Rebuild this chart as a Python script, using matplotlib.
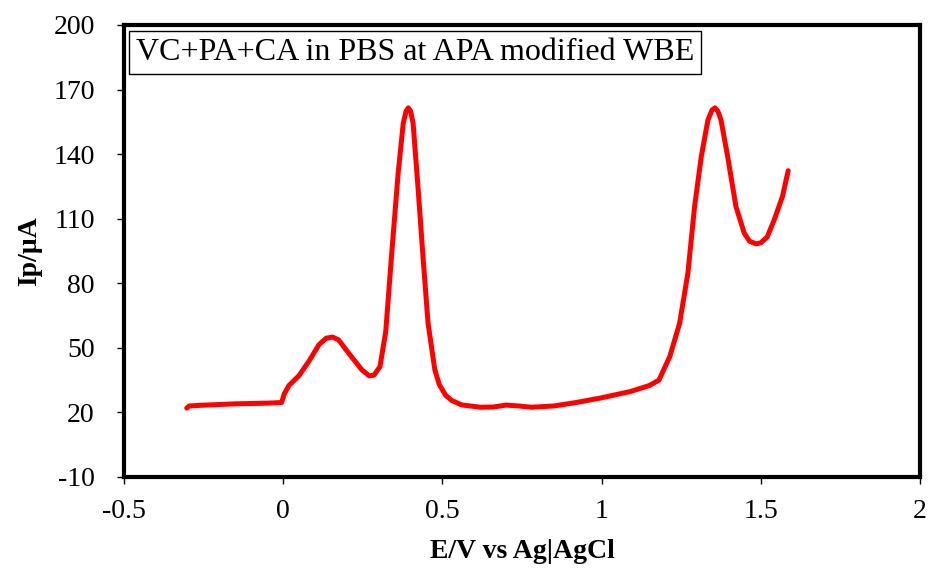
import matplotlib
matplotlib.use("Agg")
import matplotlib.pyplot as plt

potential_v = [-0.303, -0.295, -0.26, -0.15, -0.05, -0.005, 0.003, 0.018, 0.049, 0.080,
               0.112, 0.135, 0.155, 0.174, 0.210, 0.247, 0.270, 0.285, 0.304, 0.322,
               0.340, 0.361, 0.377, 0.386, 0.393, 0.400, 0.408, 0.424, 0.439, 0.455,
               0.476, 0.49, 0.51, 0.53, 0.56, 0.62, 0.66, 0.70, 0.74, 0.78,
               0.85, 0.92, 1.00, 1.09, 1.15, 1.18, 1.214, 1.245, 1.271, 1.292,
               1.313, 1.334, 1.347, 1.356, 1.365, 1.375, 1.396, 1.422, 1.448, 1.465,
               1.485, 1.50, 1.520, 1.542, 1.568, 1.586]
current_ua = [22.0, 23.0, 23.3, 24.0, 24.3, 24.6, 28.5, 32.5, 37.0, 43.6,
              51.4, 54.5, 55.0, 53.7, 46.7, 39.8, 37.0, 37.3, 41.3, 57.5,
              92.4, 131.1, 154.3, 160.0, 161.5, 160.0, 154.3, 123.4, 92.4, 61.4,
              40.0, 33.0, 28.0, 25.5, 23.5, 22.4, 22.5, 23.4, 23.0, 22.4,
              23.0, 24.6, 26.8, 29.7, 32.5, 35.0, 45.9, 61.4, 84.7, 115.6,
              138.8, 155.9, 160.5, 161.5, 160.0, 155.9, 138.8, 115.6, 103.3, 99.5,
              98.3, 98.8, 101.5, 109.4, 120.3, 132.3]

x_ticks = [-0.5, 0, 0.5, 1, 1.5, 2]
x_tick_labels = ["-0.5", "0", "0.5", "1", "1.5", "2"]
y_ticks = [-10, 20, 50, 80, 110, 140, 170, 200]
y_tick_labels = ["-10", "20", "50", "80", "110", "140", "170", "200"]

plt.rcParams['font.family'] = ['Liberation Serif', 'DejaVu Serif']

fig = plt.figure(figsize=(9.3, 5.72), dpi=100)
ax = fig.add_axes([124/930, 1 - 477/572, (920 - 124)/930, (477 - 25)/572])

ax.plot(potential_v, current_ua, color='#ff0000', lw=3.6, solid_joinstyle='round',
        solid_capstyle='round')

ax.set_xlim(-0.5, 2)
ax.set_ylim(-10, 200)
ax.set_xticks(x_ticks)
ax.set_xticklabels(x_tick_labels)
ax.set_yticks(y_ticks)
ax.set_yticklabels(y_tick_labels)
ax.tick_params(axis='both', direction='out', length=5, width=1, labelsize=20)
ax.tick_params(axis='x', pad=11)
ax.tick_params(axis='y', pad=16)
for s in ax.spines.values():
    s.set_linewidth(3)
    s.set_color('black')

ax.set_xlabel("E/V vs Ag|AgCl", fontsize=20, fontweight='bold', labelpad=11)
ax.set_ylabel("Ip/\u03bcA", fontsize=20, fontweight='bold', labelpad=8)

ax.text(0.015, 0.972, "VC+PA+CA in PBS at APA modified WBE", transform=ax.transAxes,
        fontsize=23, va='top', ha='left',
        bbox=dict(boxstyle='square,pad=0.22', facecolor='white', edgecolor='black', lw=1))

fig.savefig("out.png", dpi=100)
